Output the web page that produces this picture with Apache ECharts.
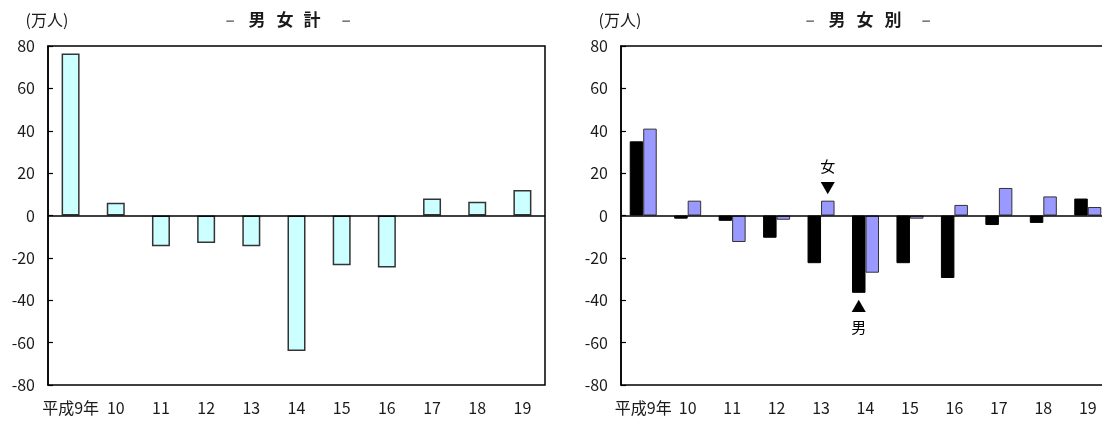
<!DOCTYPE html>
<html>
<head>
<meta charset="utf-8">
<script src="https://cdn.jsdelivr.net/npm/echarts@6/dist/echarts.min.js"></script>
<style>
html,body{margin:0;padding:0;background:#fff;}
#c{width:1102px;height:423px;}
</style>
</head>
<body>
<div id="c"></div>
<script>
// ---- data ----
const categories = ['平成9年','10','11','12','13','14','15','16','17','18','19'];
const totalValues = [76.5, 6, -14.5, -13, -14.5, -64, -23.5, -24.5, 8, 6.5, 12];
const maleValues = [35, -1.5, -2.5, -10.5, -22.5, -36.5, -22.5, -29.5, -4.5, -3.5, 8];
const femaleValues = [41, 7, -12.5, -2, 7, -27, -1.5, 5, 13, 9, 4];
const yTicks = { min: -80, max: 80, interval: 20 };
const titleLeft = ['–', '男', '女', '計', '–'];
const titleRight = ['–', '男', '女', '別', '–'];
const unitText = '(万人)';
const notes = { female: { cat: '13', label: '女\n▼' }, male: { cat: '14', label: '▲\n男' } };

const numFont = '"Liberation Sans Narrow","Noto Sans CJK JP","Liberation Sans",sans-serif';
const cjkFont = '"Noto Sans CJK JP","Liberation Sans",sans-serif';

const chart = echarts.init(document.getElementById('c'));

function yAxis(gi){
  return {
    type:'value', gridIndex:gi, min:yTicks.min, max:yTicks.max, interval:yTicks.interval,
    axisLine:{show:true, lineStyle:{color:'#000', width:1.5}},
    axisTick:{show:true, inside:true, length:5, lineStyle:{color:'#000', width:1.2}},
    splitLine:{show:false},
    axisLabel:{color:'#1a1a1a', fontSize:16, fontFamily:numFont, margin:13}
  };
}
function xAxis(gi){
  return {
    type:'category', gridIndex:gi, data:categories,
    axisLine:{show:false, onZero:false}, axisTick:{show:false},
    axisLabel:{color:'#1a1a1a', fontSize:16, fontFamily:numFont, margin:15, interval:0}
  };
}
const zeroLine = {
  silent:true, symbol:'none', label:{show:false},
  lineStyle:{color:'#000', type:'solid', width:1.5},
  data:[{yAxis:0}]
};

// title glyph x-centres (layout only)
const leftTitleX = [230, 257, 285, 312, 346];
const rightTitleX = [810, 837, 865, 893, 926];
const graphics = [];
titleLeft.forEach((t,i)=>graphics.push({type:'text', x:leftTitleX[i], y:20, style:{text:t, fontSize:17, fontWeight:'bold', fontFamily:cjkFont, fill: t==='–'?'#777':'#1a1a1a', align:'center', verticalAlign:'middle'}}));
titleRight.forEach((t,i)=>graphics.push({type:'text', x:rightTitleX[i], y:20, style:{text:t, fontSize:17, fontWeight:'bold', fontFamily:cjkFont, fill: t==='–'?'#777':'#1a1a1a', align:'center', verticalAlign:'middle'}}));
graphics.push({type:'text', x:47, y:20, style:{text:unitText, fontSize:16, fontFamily:cjkFont, fill:'#1a1a1a', align:'center', verticalAlign:'middle'}});
graphics.push({type:'text', x:620, y:20, style:{text:unitText, fontSize:16, fontFamily:cjkFont, fill:'#1a1a1a', align:'center', verticalAlign:'middle'}});

const option = {
  animation:false,
  backgroundColor:'#fff',
  grid:[
    {left:48, top:46, width:497, height:339, show:true, borderColor:'#000', borderWidth:1.5, backgroundColor:'transparent', outerBoundsMode:'none', containLabel:false},
    {left:621, top:46, width:489, height:339, show:true, borderColor:'#000', borderWidth:1.5, backgroundColor:'transparent', outerBoundsMode:'none', containLabel:false}
  ],
  xAxis:[xAxis(0), xAxis(1)],
  yAxis:[yAxis(0), yAxis(1)],
  graphic:graphics,
  series:[
    {
      type:'bar', xAxisIndex:0, yAxisIndex:0, data:totalValues, barWidth:18,
      itemStyle:{color:'#CCFFFF', borderColor:'#333', borderWidth:1.5},
      markLine:zeroLine
    },
    {
      type:'bar', name:'男', xAxisIndex:1, yAxisIndex:1, data:maleValues, barWidth:13.5, barGap:'0%',
      itemStyle:{color:'#000', borderColor:'#000', borderWidth:1},
      markLine:zeroLine,
      markPoint:{
        symbol:'circle', symbolSize:1, itemStyle:{color:'rgba(0,0,0,0)'},
        label:{show:true, position:'bottom', distance:2, formatter:notes.male.label, color:'#000', fontSize:15, lineHeight:21, fontFamily:cjkFont},
        data:[{coord:[notes.male.cat, maleValues[categories.indexOf(notes.male.cat)]]}]
      }
    },
    {
      type:'bar', name:'女', xAxisIndex:1, yAxisIndex:1, data:femaleValues, barWidth:13.5, barGap:'0%',
      itemStyle:{color:'#9999FF', borderColor:'#333', borderWidth:1},
      markPoint:{
        symbol:'circle', symbolSize:1, itemStyle:{color:'rgba(0,0,0,0)'},
        label:{show:true, position:'top', distance:2, formatter:notes.female.label, color:'#000', fontSize:15, lineHeight:21, fontFamily:cjkFont},
        data:[{coord:[notes.female.cat, femaleValues[categories.indexOf(notes.female.cat)]]}]
      }
    }
  ]
};
chart.setOption(option);
</script>
</body>
</html>
